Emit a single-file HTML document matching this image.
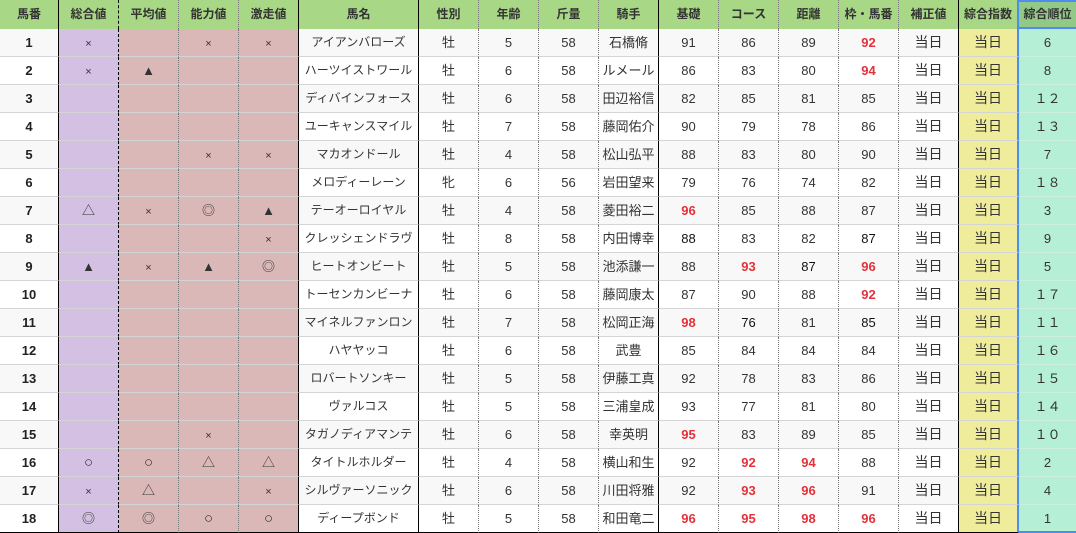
<!DOCTYPE html>
<html><head><meta charset="utf-8">
<style>
*{margin:0;padding:0;box-sizing:border-box}
html,body{width:1076px;height:533px;overflow:hidden;background:#fff}
body{font-family:"Liberation Sans","Noto Sans CJK JP",sans-serif;font-size:13px;color:#333}
.r{display:flex;height:28px}
.r>div{height:28px;line-height:27px;text-align:center;white-space:nowrap;overflow:hidden}
.b>div{border-bottom:1px solid #d4d4d4;background:#fff}
.b.odd>div{background:#f8f8f8}
.h{height:29px}
.h>div{height:29px;line-height:29px;background:#a8d786;font-weight:bold;font-size:12px;color:#333}
.c0{width:59px;border-right:1px solid #000}
.b>.c0{font-weight:bold;color:#222}
.c1{width:60px;border-right:1px dashed #000}
.c2,.c3{width:60px;border-right:1px dotted #777}
.c4{width:60px;border-right:1px solid #000}
.b>.c1{background:#d4c0e2 !important}
.b>.c2,.b>.c3,.b>.c4{background:#dbb8b8 !important}
.nm{width:120px;border-right:1px solid #000}
.b>.nm{font-size:12px}
.d{width:60px;border-right:1px dotted #777}
.jk{width:60px;border-right:1px solid #000}
.hs{width:60px;border-right:1px solid #000}
.ix{width:60px;border-right:2px solid #4f8cf2}
.b>.ix{background:#efec9c !important;font-size:14px}
.rk{width:57px}
.b>.rk{background:#b5efd5 !important;border-bottom:1px solid #cdeedd}
.h>.rk{background:#93c987;border-top:2px solid #4f8cf2;border-bottom:2px solid #4f8cf2;line-height:25px}
.b.last>div{border-bottom:1px solid #000}
.b.last>.rk{border-bottom:2px solid #4f8cf2}
.b>.hs{font-size:14px}
.red{color:#e3313a;font-weight:bold}
.dk{color:#111}
.x{font-size:11px}
.s{font-size:13px}
.o{font-size:15px}
</style></head><body>
<div class="r h"><div class="c0">馬番</div><div class="c1">総合値</div><div class="c2">平均値</div><div class="c3">能力値</div><div class="c4">激走値</div><div class="nm">馬名</div><div class="d">性別</div><div class="d">年齢</div><div class="d">斤量</div><div class="jk">騎手</div><div class="d">基礎</div><div class="d">コース</div><div class="d">距離</div><div class="d">枠・馬番</div><div class="hs">補正値</div><div class="ix">綜合指数</div><div class="rk">綜合順位</div></div>

<div class="r b odd"><div class="c0">1</div><div class="c1"><span class="x">×</span></div><div class="c2"></div><div class="c3"><span class="x">×</span></div><div class="c4"><span class="x">×</span></div><div class="nm">アイアンバローズ</div><div class="d">牡</div><div class="d">5</div><div class="d">58</div><div class="jk">石橋脩</div><div class="d">91</div><div class="d">86</div><div class="d">89</div><div class="d red">92</div><div class="hs">当日</div><div class="ix">当日</div><div class="rk">6</div></div>

<div class="r b"><div class="c0">2</div><div class="c1"><span class="x">×</span></div><div class="c2"><span class="s">▲</span></div><div class="c3"></div><div class="c4"></div><div class="nm">ハーツイストワール</div><div class="d">牡</div><div class="d">6</div><div class="d">58</div><div class="jk">ルメール</div><div class="d">86</div><div class="d">83</div><div class="d">80</div><div class="d red">94</div><div class="hs">当日</div><div class="ix">当日</div><div class="rk">8</div></div>

<div class="r b odd"><div class="c0">3</div><div class="c1"></div><div class="c2"></div><div class="c3"></div><div class="c4"></div><div class="nm">ディバインフォース</div><div class="d">牡</div><div class="d">6</div><div class="d">58</div><div class="jk">田辺裕信</div><div class="d">82</div><div class="d">85</div><div class="d">81</div><div class="d">85</div><div class="hs">当日</div><div class="ix">当日</div><div class="rk">１２</div></div>

<div class="r b"><div class="c0">4</div><div class="c1"></div><div class="c2"></div><div class="c3"></div><div class="c4"></div><div class="nm">ユーキャンスマイル</div><div class="d">牡</div><div class="d">7</div><div class="d">58</div><div class="jk">藤岡佑介</div><div class="d">90</div><div class="d">79</div><div class="d">78</div><div class="d">86</div><div class="hs">当日</div><div class="ix">当日</div><div class="rk">１３</div></div>

<div class="r b odd"><div class="c0">5</div><div class="c1"></div><div class="c2"></div><div class="c3"><span class="x">×</span></div><div class="c4"><span class="x">×</span></div><div class="nm">マカオンドール</div><div class="d">牡</div><div class="d">4</div><div class="d">58</div><div class="jk">松山弘平</div><div class="d">88</div><div class="d">83</div><div class="d">80</div><div class="d">90</div><div class="hs">当日</div><div class="ix">当日</div><div class="rk">7</div></div>

<div class="r b"><div class="c0">6</div><div class="c1"></div><div class="c2"></div><div class="c3"></div><div class="c4"></div><div class="nm">メロディーレーン</div><div class="d">牝</div><div class="d">6</div><div class="d">56</div><div class="jk">岩田望来</div><div class="d">79</div><div class="d">76</div><div class="d">74</div><div class="d">82</div><div class="hs">当日</div><div class="ix">当日</div><div class="rk">１８</div></div>

<div class="r b odd"><div class="c0">7</div><div class="c1"><span class="s">△</span></div><div class="c2"><span class="x">×</span></div><div class="c3"><span class="s">◎</span></div><div class="c4"><span class="s">▲</span></div><div class="nm">テーオーロイヤル</div><div class="d">牡</div><div class="d">4</div><div class="d">58</div><div class="jk">菱田裕二</div><div class="d red">96</div><div class="d">85</div><div class="d">88</div><div class="d">87</div><div class="hs">当日</div><div class="ix">当日</div><div class="rk">3</div></div>

<div class="r b"><div class="c0">8</div><div class="c1"></div><div class="c2"></div><div class="c3"></div><div class="c4"><span class="x">×</span></div><div class="nm">クレッシェンドラヴ</div><div class="d">牡</div><div class="d">8</div><div class="d">58</div><div class="jk">内田博幸</div><div class="d dk">88</div><div class="d">83</div><div class="d">82</div><div class="d dk">87</div><div class="hs">当日</div><div class="ix">当日</div><div class="rk">9</div></div>

<div class="r b odd"><div class="c0">9</div><div class="c1"><span class="s">▲</span></div><div class="c2"><span class="x">×</span></div><div class="c3"><span class="s">▲</span></div><div class="c4"><span class="s">◎</span></div><div class="nm">ヒートオンビート</div><div class="d">牡</div><div class="d">5</div><div class="d">58</div><div class="jk">池添謙一</div><div class="d">88</div><div class="d red">93</div><div class="d dk">87</div><div class="d red">96</div><div class="hs">当日</div><div class="ix">当日</div><div class="rk">5</div></div>

<div class="r b"><div class="c0">10</div><div class="c1"></div><div class="c2"></div><div class="c3"></div><div class="c4"></div><div class="nm">トーセンカンビーナ</div><div class="d">牡</div><div class="d">6</div><div class="d">58</div><div class="jk">藤岡康太</div><div class="d">87</div><div class="d">90</div><div class="d">88</div><div class="d red">92</div><div class="hs">当日</div><div class="ix">当日</div><div class="rk">１７</div></div>

<div class="r b odd"><div class="c0">11</div><div class="c1"></div><div class="c2"></div><div class="c3"></div><div class="c4"></div><div class="nm">マイネルファンロン</div><div class="d">牡</div><div class="d">7</div><div class="d">58</div><div class="jk">松岡正海</div><div class="d red">98</div><div class="d dk">76</div><div class="d">81</div><div class="d dk">85</div><div class="hs">当日</div><div class="ix">当日</div><div class="rk">１１</div></div>

<div class="r b"><div class="c0">12</div><div class="c1"></div><div class="c2"></div><div class="c3"></div><div class="c4"></div><div class="nm">ハヤヤッコ</div><div class="d">牡</div><div class="d">6</div><div class="d">58</div><div class="jk">武豊</div><div class="d">85</div><div class="d">84</div><div class="d">84</div><div class="d">84</div><div class="hs">当日</div><div class="ix">当日</div><div class="rk">１６</div></div>

<div class="r b odd"><div class="c0">13</div><div class="c1"></div><div class="c2"></div><div class="c3"></div><div class="c4"></div><div class="nm">ロバートソンキー</div><div class="d">牡</div><div class="d">5</div><div class="d">58</div><div class="jk">伊藤工真</div><div class="d">92</div><div class="d">78</div><div class="d">83</div><div class="d">86</div><div class="hs">当日</div><div class="ix">当日</div><div class="rk">１５</div></div>

<div class="r b"><div class="c0">14</div><div class="c1"></div><div class="c2"></div><div class="c3"></div><div class="c4"></div><div class="nm">ヴァルコス</div><div class="d">牡</div><div class="d">5</div><div class="d">58</div><div class="jk">三浦皇成</div><div class="d">93</div><div class="d">77</div><div class="d">81</div><div class="d">80</div><div class="hs">当日</div><div class="ix">当日</div><div class="rk">１４</div></div>

<div class="r b odd"><div class="c0">15</div><div class="c1"></div><div class="c2"></div><div class="c3"><span class="x">×</span></div><div class="c4"></div><div class="nm">タガノディアマンテ</div><div class="d">牡</div><div class="d">6</div><div class="d">58</div><div class="jk">幸英明</div><div class="d red">95</div><div class="d">83</div><div class="d">89</div><div class="d">85</div><div class="hs">当日</div><div class="ix">当日</div><div class="rk">１０</div></div>

<div class="r b"><div class="c0">16</div><div class="c1"><span class="o">○</span></div><div class="c2"><span class="o">○</span></div><div class="c3"><span class="s">△</span></div><div class="c4"><span class="s">△</span></div><div class="nm">タイトルホルダー</div><div class="d">牡</div><div class="d">4</div><div class="d">58</div><div class="jk">横山和生</div><div class="d">92</div><div class="d red">92</div><div class="d red">94</div><div class="d">88</div><div class="hs">当日</div><div class="ix">当日</div><div class="rk">2</div></div>

<div class="r b odd"><div class="c0">17</div><div class="c1"><span class="x">×</span></div><div class="c2"><span class="s">△</span></div><div class="c3"></div><div class="c4"><span class="x">×</span></div><div class="nm">シルヴァーソニック</div><div class="d">牡</div><div class="d">6</div><div class="d">58</div><div class="jk">川田将雅</div><div class="d">92</div><div class="d red">93</div><div class="d red">96</div><div class="d">91</div><div class="hs">当日</div><div class="ix">当日</div><div class="rk">4</div></div>

<div class="r b last"><div class="c0">18</div><div class="c1"><span class="s">◎</span></div><div class="c2"><span class="s">◎</span></div><div class="c3"><span class="o">○</span></div><div class="c4"><span class="o">○</span></div><div class="nm">ディープボンド</div><div class="d">牡</div><div class="d">5</div><div class="d">58</div><div class="jk">和田竜二</div><div class="d red">96</div><div class="d red">95</div><div class="d red">98</div><div class="d red">96</div><div class="hs">当日</div><div class="ix">当日</div><div class="rk">1</div></div>
</body></html>
